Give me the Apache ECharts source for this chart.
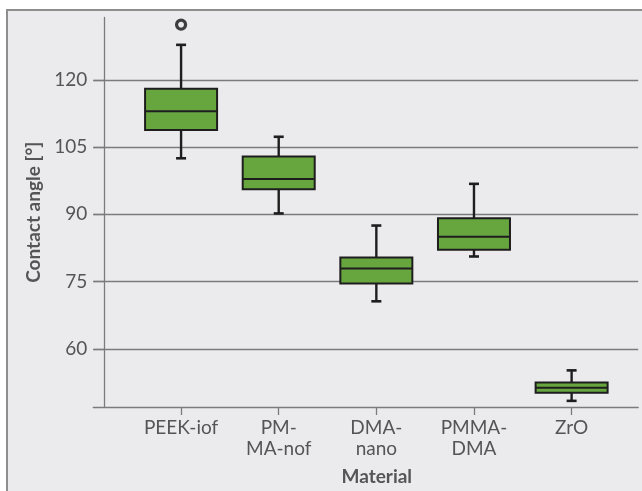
<!DOCTYPE html>
<html>
<head>
<meta charset="utf-8">
<script src="https://cdn.jsdelivr.net/npm/echarts@6/dist/echarts.min.js"></script>
<style>
  html, body { margin: 0; padding: 0; background: #ffffff; width: 642px; height: 491px; overflow: hidden; }
  #frame { position: absolute; left: 6px; top: 9px; width: 700px; height: 600px; background: #ebebee; border: 2px solid #8e8e8e; box-sizing: border-box; }
  #chart { position: absolute; left: 0; top: 0; width: 642px; height: 491px; }
</style>
</head>
<body>
<div id="frame"></div>
<div id="chart"></div>
<script>
// ---- data ----
const categories = ['PEEK-iof', 'PM-\nMA-nof', 'DMA-\nnano', 'PMMA-\nDMA', 'ZrO'];
const lowerWhisker = [102.5, 90.2, 70.6, 80.6, 48.4];
const q1 = [108.8, 95.6, 74.6, 82.1, 50.2];
const median = [113.0, 97.9, 77.9, 85.0, 51.3];
const q3 = [118.0, 102.9, 80.4, 89.1, 52.5];
const upperWhisker = [127.8, 107.3, 87.5, 96.8, 55.2];
const outlierCategory = [0];
const outlierValue = [132.3];
const yTicks = [60, 75, 90, 105, 120];
const categoryIndex = [0, 1, 2, 3, 4];

// ---- build series data ----
const boxData = categories.map((c, i) => [i, lowerWhisker[i], q1[i], median[i], q3[i], upperWhisker[i]]);
const outlierData = outlierCategory.map((c, i) => [c, outlierValue[i]]);

const BOX_W = 72, CAP_W = 10;
const INK = '#1e1e1e';
const GRAY = '#7b7b7b';
const TEXT = '#555555';
const FONT = 'Lato';

function renderBox(params, api) {
  const x = api.value(0);
  const lo = api.coord([x, api.value(1)]);
  const b1 = api.coord([x, api.value(2)]);
  const md = api.coord([x, api.value(3)]);
  const b3 = api.coord([x, api.value(4)]);
  const hi = api.coord([x, api.value(5)]);
  const cx = lo[0];
  const hw = BOX_W / 2, cw = CAP_W / 2;
  const ws = { stroke: INK, lineWidth: 2.4 };
  return {
    type: 'group',
    children: [
      { type: 'line', shape: { x1: cx, y1: hi[1], x2: cx, y2: b3[1] }, style: ws },
      { type: 'line', shape: { x1: cx, y1: b1[1], x2: cx, y2: lo[1] }, style: ws },
      { type: 'line', shape: { x1: cx - cw, y1: hi[1], x2: cx + cw, y2: hi[1] }, style: { stroke: INK, lineWidth: 2.6 } },
      { type: 'line', shape: { x1: cx - cw, y1: lo[1], x2: cx + cw, y2: lo[1] }, style: { stroke: INK, lineWidth: 2.6 } },
      { type: 'rect', shape: { x: cx - hw, y: b3[1], width: BOX_W, height: b1[1] - b3[1] }, style: { fill: '#67a53f', stroke: INK, lineWidth: 2 } },
      { type: 'line', shape: { x1: cx - hw, y1: md[1], x2: cx + hw, y2: md[1] }, style: { stroke: INK, lineWidth: 2 } }
    ]
  };
}

const chart = echarts.init(document.getElementById('chart'), null, { renderer: 'canvas' });
chart.setOption({
  backgroundColor: 'transparent',
  animation: false,
  grid: { left: 93.3, right: 3.8, top: 17.5, bottom: 78.2, containLabel: false },
  xAxis: {
    type: 'value',
    min: -0.899,
    max: 4.682,
    name: 'Material',
    nameLocation: 'middle',
    nameGap: 60,
    nameTextStyle: { fontFamily: FONT, fontWeight: 'bold', fontSize: 19, color: TEXT, padding: [0, 0, 0, 22] },
    axisLine: { show: true, onZero: false, lineStyle: { color: GRAY, width: 1.3 } },
    axisTick: { show: true, customValues: categoryIndex, length: 8, lineStyle: { color: GRAY, width: 1.3 } },
    axisLabel: {
      customValues: categoryIndex,
      formatter: v => categories[Math.round(v)],
      fontFamily: FONT, fontSize: 19, lineHeight: 21, color: TEXT, margin: 10
    },
    splitLine: { show: false }
  },
  yAxis: {
    type: 'value',
    min: 47.03,
    max: 133.9,
    offset: -11,
    name: 'Contact angle [°]',
    nameLocation: 'middle',
    nameGap: 58,
    nameTextStyle: { fontFamily: FONT, fontWeight: 'bold', fontSize: 19, color: TEXT },
    axisLine: { show: true, onZero: false, lineStyle: { color: GRAY, width: 1.3 } },
    axisTick: { show: true, customValues: yTicks, length: 11, lineStyle: { color: GRAY, width: 1.3 } },
    axisLabel: { customValues: yTicks, fontFamily: FONT, fontSize: 19, color: TEXT, margin: 17 },
    splitLine: { show: true, customValues: yTicks, lineStyle: { color: GRAY, width: 1.3 } }
  },
  series: [
    {
      type: 'custom',
      renderItem: renderBox,
      data: boxData,
      encode: { x: 0, y: [1, 2, 3, 4, 5] },
      silent: true,
      z: 3
    },
    {
      type: 'scatter',
      data: outlierData,
      symbol: 'circle',
      symbolSize: 9,
      itemStyle: { color: 'rgba(0,0,0,0)', borderColor: '#111111', borderWidth: 3.2 },
      silent: true,
      z: 4
    }
  ]
});
</script>
</body>
</html>
